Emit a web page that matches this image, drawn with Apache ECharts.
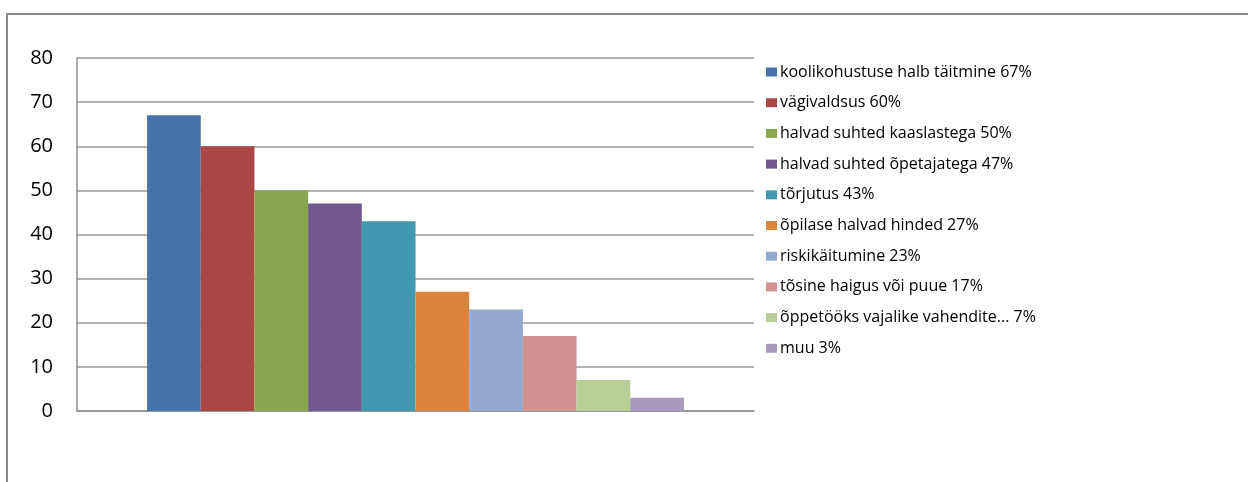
<!DOCTYPE html>
<html>
<head>
<meta charset="utf-8">
<script src="https://cdn.jsdelivr.net/npm/echarts@6/dist/echarts.min.js"></script>
<style>
html,body{margin:0;padding:0;background:#fff;}
#chart{width:1248px;height:482px;}
</style>
</head>
<body>
<div id="chart"></div>
<script>
var categories = [''];
var seriesNames = [
  'koolikohustuse halb täitmine 67%',
  'vägivaldsus 60%',
  'halvad suhted kaaslastega 50%',
  'halvad suhted õpetajatega 47%',
  'tõrjutus 43%',
  'õpilase halvad hinded 27%',
  'riskikäitumine 23%',
  'tõsine haigus või puue 17%',
  'õppetööks vajalike vahendite... 7%',
  'muu 3%'
];
var seriesValues = [67, 60, 50, 47, 43, 27, 23, 17, 7, 3];
var colors = ['#4572A7', '#AA4643', '#89A54E', '#71588F', '#4198AF', '#DB843D', '#93A9CF', '#D19392', '#B9CD96', '#A99BBD'];

var font = 'Open Sans';
var chart = echarts.init(document.getElementById('chart'));
var series = seriesNames.map(function (n, i) {
  return {
    name: n,
    type: 'bar',
    data: [seriesValues[i]],
    barGap: '0%',
    barCategoryGap: '20.7%',
    itemStyle: { color: colors[i] },
    emphasis: { disabled: true }
  };
});
chart.setOption({
  animation: false,
  color: colors,
  graphic: [{
    type: 'rect',
    shape: { x: 7, y: 14, width: 1400, height: 700 },
    style: { fill: 'none', stroke: '#8a8a8a', lineWidth: 2 },
    silent: true
  }],
  grid: { left: 77, right: 494, top: 58, bottom: 71, containLabel: false },
  legend: {
    orient: 'vertical',
    left: 761,
    top: 58,
    itemWidth: 11,
    itemHeight: 9,
    itemGap: 12.7,
    icon: 'rect',
    textStyle: { fontFamily: font, fontSize: 16, color: '#000', lineHeight: 18, padding: [0, 0, 0, -2] },
    data: seriesNames
  },
  xAxis: {
    type: 'category',
    data: categories,
    axisTick: { show: false },
    axisLabel: { show: false },
    axisLine: { lineStyle: { color: '#8f8f8f', width: 1.5 } }
  },
  yAxis: {
    type: 'value',
    min: 0,
    max: 80,
    interval: 10,
    axisLine: { show: true, lineStyle: { color: '#8f8f8f', width: 1.5 } },
    axisTick: { show: false },
    axisLabel: { fontFamily: font, fontSize: 20, color: '#000', margin: 24 },
    splitLine: { lineStyle: { color: '#999', width: 1.5 } }
  },
  series: series
});
</script>
</body>
</html>
